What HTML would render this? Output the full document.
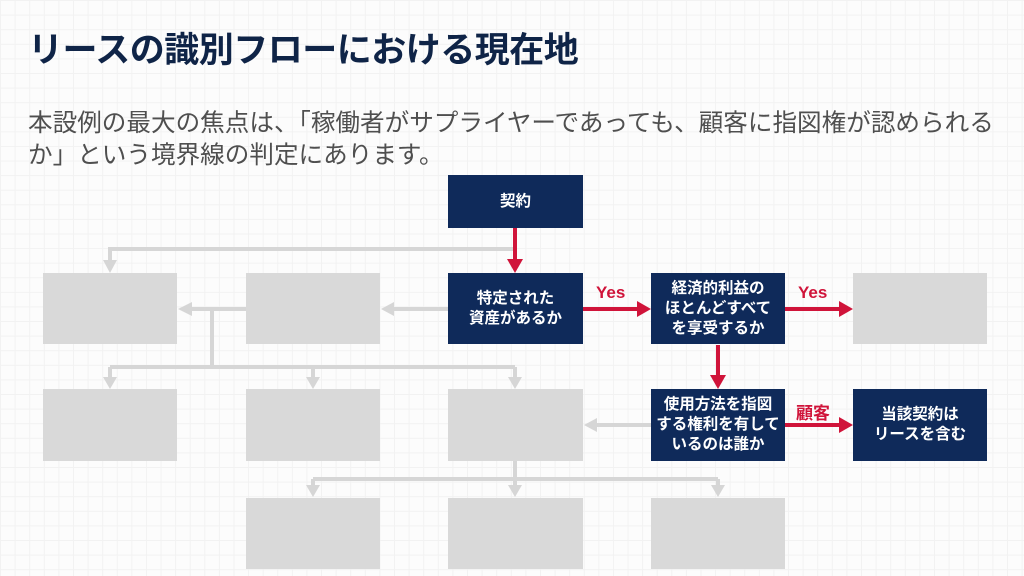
<!DOCTYPE html>
<html><head><meta charset="utf-8">
<style>
html,body{margin:0;padding:0}
body{width:1024px;height:576px;overflow:hidden;position:relative;background:#fcfcfc;
background-image:linear-gradient(#f2f2f2 1px,transparent 1px),linear-gradient(90deg,#f2f2f2 1px,transparent 1px);
background-size:14.6px 14.6px;font-family:"Liberation Sans","Noto Sans CJK JP",sans-serif}
.t{position:absolute;left:28px;top:22px;font-size:35px;font-weight:bold;color:#0f2447;letter-spacing:-0.5px;white-space:nowrap}
.p{position:absolute;left:28px;top:108px;font-size:24.6px;line-height:32px;color:#4f4f4f;width:1000px;white-space:nowrap}
.b{position:absolute;box-sizing:border-box;display:flex;align-items:center;justify-content:center;text-align:center;font-size:15.5px;font-weight:bold;line-height:20px;color:#fff}
.n{background:#0f2a5a}
.g{background:#d9d9d9}
.l{position:absolute;font-size:17px;font-weight:bold;color:#d0143a}
</style></head><body>
<div class="t">リースの識別フローにおける現在地</div>
<div class="p">本設例の最大の焦点は、「稼働者がサプライヤーであっても、顧客に指図権が認められる<br>か」という境界線の判定にあります。</div>
<svg width="1024" height="576" style="position:absolute;left:0;top:0">
<g stroke="#d6d6d6" stroke-width="4" fill="none">
<path d="M515 249 H110 V262"/>
<path d="M448 309 H392"/>
<path d="M246 309 H190"/>
<path d="M212 309 V367 M110 367 H515 M110 367 V378 M313 367 V378 M515 367 V378"/>
<path d="M651 425 H596"/>
<path d="M515 461 V486 M313 479 H718 M313 479 V486 M718 479 V486"/>
</g>
<g fill="#d6d6d6">
<path d="M103 260 L117 260 L110 273Z"/>
<path d="M394 302 L394 316 L381 309Z"/>
<path d="M192 302 L192 316 L178 309Z"/>
<path d="M103 377 L117 377 L110 389Z M306 377 L320 377 L313 389Z M508 377 L522 377 L515 389Z"/>
<path d="M597 418 L597 432 L584 425Z"/>
<path d="M306 485 L320 485 L313 497Z M508 485 L522 485 L515 497Z M711 485 L725 485 L718 497Z"/>
</g>
<g stroke="#d0143a" stroke-width="4" fill="none">
<path d="M515 228 V260"/>
<path d="M583 309 H638"/>
<path d="M785 309 H840"/>
<path d="M718 345 V376"/>
<path d="M785 425 H840"/>
</g>
<g fill="#d0143a">
<path d="M507 259 L523 259 L515 273Z"/>
<path d="M637 301 L637 317 L651 309Z"/>
<path d="M839 301 L839 317 L853 309Z"/>
<path d="M710 375 L726 375 L718 389Z"/>
<path d="M839 417 L839 433 L853 425Z"/>
</g>
</svg>
<div class="b n" style="left:448px;top:175px;width:135px;height:53px">契約</div>
<div class="b g" style="left:43px;top:273px;width:134px;height:71px"></div>
<div class="b g" style="left:246px;top:273px;width:134px;height:71px"></div>
<div class="b n" style="left:448px;top:273px;width:135px;height:71px">特定された<br>資産があるか</div>
<div class="b n" style="left:651px;top:273px;width:134px;height:71px">経済的利益の<br>ほとんどすべて<br>を享受するか</div>
<div class="b g" style="left:853px;top:273px;width:134px;height:71px"></div>
<div class="b g" style="left:43px;top:389px;width:134px;height:72px"></div>
<div class="b g" style="left:246px;top:389px;width:134px;height:72px"></div>
<div class="b g" style="left:448px;top:389px;width:135px;height:72px"></div>
<div class="b n" style="left:651px;top:389px;width:134px;height:72px">使用方法を指図<br>する権利を有して<br>いるのは誰か</div>
<div class="b n" style="left:853px;top:389px;width:134px;height:72px">当該契約は<br>リースを含む</div>
<div class="b g" style="left:246px;top:498px;width:134px;height:71px"></div>
<div class="b g" style="left:448px;top:498px;width:135px;height:71px"></div>
<div class="b g" style="left:651px;top:498px;width:134px;height:71px"></div>
<div class="l" style="left:596px;top:283px">Yes</div>
<div class="l" style="left:798px;top:283px">Yes</div>
<div class="l" style="left:796px;top:399px">顧客</div>
</body></html>
